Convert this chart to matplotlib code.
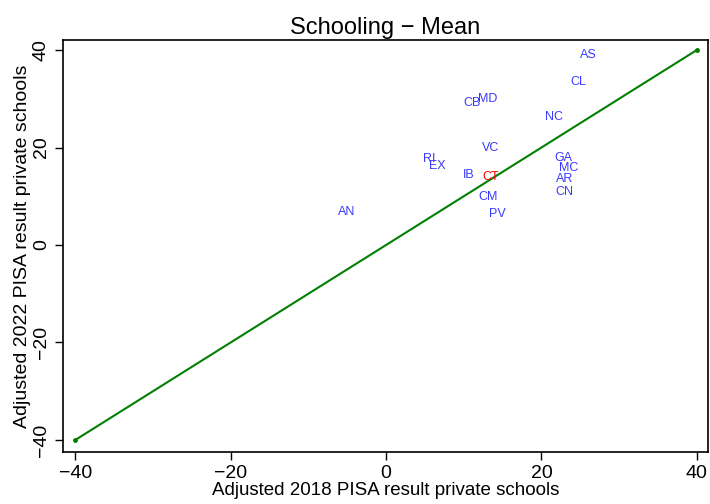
import matplotlib
matplotlib.use("Agg")
import matplotlib.pyplot as plt

plt.rcParams['font.family'] = ['Liberation Sans', 'DejaVu Sans']

# region codes and adjusted PISA results (private schools)
codes = ["AS", "CL", "CB", "MD", "NC", "VC", "RI", "EX", "IB", "CT",
         "GA", "MC", "AR", "CN", "CM", "PV", "AN"]
x2018 = [26.0, 24.8, 11.1, 13.1, 21.6, 13.4, 5.5, 6.6, 10.7, 13.5,
         22.8, 23.5, 23.0, 23.0, 13.1, 14.3, -5.1]
y2022 = [39.0, 33.4, 29.1, 29.9, 26.3, 19.9, 17.6, 16.2, 14.4, 14.0,
         17.8, 15.8, 13.5, 10.9, 9.8, 6.4, 6.8]
highlight = "CT"

diag = [-40, 40]
ticks = [-40, -20, 0, 20, 40]

fig = plt.figure(figsize=(7.1, 5.04), dpi=100)
ax = fig.add_axes([0.0887, 0.103, 0.908, 0.818])

ax.plot(diag, diag, color="green", lw=1.5, marker="o", markersize=2.5)

for c, xv, yv in zip(codes, x2018, y2022):
    col = "red" if c == highlight else "#3a3aff"
    ax.text(xv, yv, c, color=col, fontsize=9, ha="center", va="center")

ax.set_xlim(-41.6, 41.4)
ax.set_ylim(-42.5, 42.1)
ax.set_xticks(ticks)
ax.set_yticks(ticks)
ax.set_xticklabels([str(t).replace("-", "\u2212") for t in ticks])
ax.set_yticklabels([str(t).replace("-", "\u2212") for t in ticks],
                   rotation=90, va="center")
ax.tick_params(direction="out", length=6, labelsize=14, width=1)
for s in ax.spines.values():
    s.set_linewidth(1.2)

ax.set_title("Schooling \u2212 Mean", fontsize=17, pad=4)
ax.set_xlabel("Adjusted 2018 PISA result private schools", fontsize=13.5, labelpad=0)
ax.set_ylabel("Adjusted 2022 PISA result private schools", fontsize=14, labelpad=1)

fig.savefig("out.png", dpi=100)
